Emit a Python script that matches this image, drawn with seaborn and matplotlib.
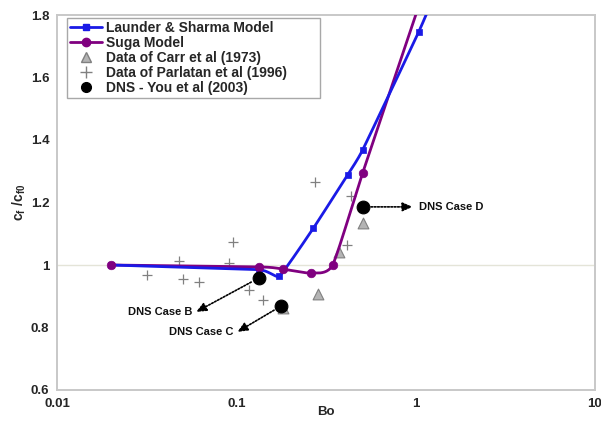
import numpy as np
import pandas as pd
import matplotlib
matplotlib.use("Agg")
import matplotlib.pyplot as plt
from matplotlib.lines import Line2D
from matplotlib.ticker import FixedLocator, FuncFormatter, LogLocator, MultipleLocator
import seaborn as sns

sns.set_theme(style="white")
plt.rcParams["font.family"] = ["Liberation Sans", "DejaVu Sans"]
plt.rcParams["font.weight"] = "bold"
plt.rcParams["mathtext.fontset"] = "custom"
plt.rcParams["mathtext.rm"] = "Liberation Sans:bold"
plt.rcParams["mathtext.it"] = "Liberation Sans:bold"
plt.rcParams["mathtext.bf"] = "Liberation Sans:bold"

# Launder & Sharma model
ls_bo = [0.02, 0.133, 0.174, 0.269, 0.417, 0.506, 1.04, 1.5]
ls_cf = [1.0, 0.985, 0.965, 1.118, 1.288, 1.368, 1.746, 1.96]

# Suga model
suga_bo = [0.02, 0.133, 0.181, 0.262, 0.344, 0.506, 1.1]
suga_cf = [1.0, 0.994, 0.987, 0.974, 1.0, 1.294, 1.87]

# Data of Carr et al (1973)
carr_bo = [0.181, 0.287, 0.376, 0.506]
carr_cf = [0.862, 0.907, 1.042, 1.134]

# Data of Parlatan et al (1996)
parl_bo = [0.0318, 0.0481, 0.0506, 0.0621, 0.0914, 0.0962, 0.118, 0.1416, 0.273, 0.412, 0.438]
parl_cf = [0.968, 1.013, 0.955, 0.946, 1.006, 1.074, 0.92, 0.888, 1.266, 1.064, 1.221]

# DNS - You et al (2003)
dns_bo = [0.133, 0.178, 0.506]
dns_cf = [0.958, 0.869, 1.186]
dns_cases = ["DNS Case B", "DNS Case C", "DNS Case D"]

y_ticks = [0.6, 0.8, 1.0, 1.2, 1.4, 1.6, 1.8]
x_ticks = [0.01, 0.1, 1, 10]

BLUE = "#1a1ae6"
PURPLE = "#800080"
GRID = "#c8c8c8"


def cardinal(xs, ys, tension=0.3, n=24):
    """Smooth cardinal spline through the points, in log-x space."""
    p = np.column_stack([np.log10(xs), ys])
    p = np.vstack([p[0], p, p[-1]])
    out = []
    t = np.linspace(0, 1, n)[:, None]
    h00 = 2 * t**3 - 3 * t**2 + 1
    h10 = t**3 - 2 * t**2 + t
    h01 = -2 * t**3 + 3 * t**2
    h11 = t**3 - t**2
    for i in range(1, len(p) - 2):
        p0, p1, p2, p3 = p[i - 1], p[i], p[i + 1], p[i + 2]
        m1 = tension * (p2 - p0)
        m2 = tension * (p3 - p1)
        seg = h00 * p1 + h10 * m1 + h01 * p2 + h11 * m2
        out.append(seg if i == 1 else seg[1:])
    c = np.vstack(out)
    return pd.DataFrame({"Bo": 10 ** c[:, 0], "cf": c[:, 1]})


fig = plt.figure(figsize=(6.01, 4.22), dpi=100)
ax = fig.add_axes([57 / 601, 1 - 390 / 422, 538 / 601, 375 / 422])
ax.set_xscale("log")
ax.set_xlim(0.01, 10)
ax.set_ylim(0.6, 1.8)

# reference line at cf/cf0 = 1
ax.axhline(1.0, color="#e4e4d8", lw=1.0, zorder=0)

ls_curve = cardinal(ls_bo, ls_cf, tension=0.2)
suga_curve = cardinal(suga_bo, suga_cf, tension=0.3)
sns.lineplot(data=suga_curve, x="Bo", y="cf", sort=False, color=PURPLE, lw=2.0, ax=ax, zorder=3)
sns.lineplot(data=ls_curve, x="Bo", y="cf", sort=False, color=BLUE, lw=2.0, ax=ax, zorder=4)

sns.scatterplot(x=parl_bo, y=parl_cf, marker="+", s=55, color="#808080", linewidth=0.9, ax=ax, zorder=2)
sns.scatterplot(x=carr_bo, y=carr_cf, marker="^", s=60, color="#b4b4b4", edgecolor="#808080",
                linewidth=0.8, ax=ax, zorder=2)
sns.scatterplot(x=ls_bo, y=ls_cf, marker="s", s=22, color=BLUE, edgecolor=BLUE, linewidth=0.5, ax=ax, zorder=5)
sns.scatterplot(x=suga_bo, y=suga_cf, marker="o", s=38, color=PURPLE, edgecolor=PURPLE, linewidth=0.5, ax=ax, zorder=6)
sns.scatterplot(x=dns_bo, y=dns_cf, marker="o", s=85, color="black", edgecolor="black", ax=ax, zorder=7)

# DNS case labels with dotted arrows: (text x, arrow tip x, y)
label_pos = [(0.0568, 0.0597, 0.850), (0.0962, 0.1014, 0.786), (1.04, 0.962, 1.186)]
ha = ["right", "right", "left"]
for (bx, by), (tx, ax_tip, ty), h, name in zip(zip(dns_bo, dns_cf), label_pos, ha, dns_cases):
    ax.annotate("", xy=(ax_tip, ty), xytext=(bx, by),
                arrowprops=dict(arrowstyle="-|>,head_length=0.5,head_width=0.22",
                                linestyle=(0, (1, 1)), lw=1.2, color="black",
                                shrinkA=6, shrinkB=0), zorder=6)
    ax.text(tx, ty, name, fontsize=8, fontweight="bold", ha=h, va="center", color="#111111")

ax.xaxis.set_major_locator(FixedLocator(x_ticks))
ax.xaxis.set_major_formatter(FuncFormatter(lambda v, p: f"{v:g}"))
ax.xaxis.set_minor_locator(LogLocator(base=10, subs=np.arange(2, 10)))
ax.yaxis.set_major_locator(FixedLocator(y_ticks))
ax.yaxis.set_major_formatter(FuncFormatter(lambda v, p: f"{v:g}"))
ax.yaxis.set_minor_locator(MultipleLocator(0.05))
ax.tick_params(axis="both", which="major", direction="inout", length=5, width=0.8,
               color="#b0b0b0", labelsize=9.5, pad=3)
ax.tick_params(axis="both", which="minor", direction="in", length=3, width=0.8, color="#c0c0c0")
for t in ax.get_xticklabels() + ax.get_yticklabels():
    t.set_fontweight("bold")

for s in ax.spines.values():
    s.set_color(GRID)
    s.set_linewidth(1.4)

ax.set_xlabel("Bo", fontsize=9.5, fontweight="bold")
ax.xaxis.set_label_coords(0.5, -0.043)
ax.set_ylabel(r"$\mathbf{c_f\ /c_{f0}}$", fontsize=10, labelpad=2)

handles = [
    Line2D([], [], color=BLUE, lw=2, marker="s", ms=4.5),
    Line2D([], [], color=PURPLE, lw=2, marker="o", ms=6),
    Line2D([], [], ls="none", marker="^", ms=7, mfc="#b4b4b4", mec="#808080"),
    Line2D([], [], ls="none", marker="+", ms=8, color="#808080"),
    Line2D([], [], ls="none", marker="o", ms=7, color="black"),
]
labels = ["Launder & Sharma Model", "Suga Model", "Data of Carr et al (1973)",
          "Data of Parlatan et al (1996)", "DNS - You et al (2003)"]
leg = ax.legend(handles, labels, loc="upper left", bbox_to_anchor=(0.0186, 0.5, 0.470, 0.493),
                mode="expand", borderaxespad=0, fancybox=False, framealpha=1, edgecolor="#a8a8a8",
                prop={"weight": "bold", "size": 10}, handlelength=2.3, handletextpad=0.3,
                labelspacing=0.08, borderpad=0.22)
leg.get_frame().set_linewidth(1.0)

fig.savefig("out.png", dpi=100, facecolor="white")
